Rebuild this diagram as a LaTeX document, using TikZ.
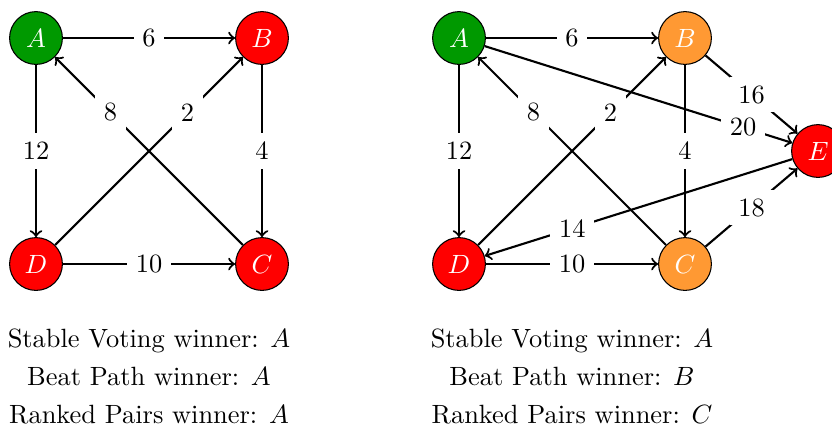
\documentclass[tikz,border=0pt]{standalone}
\begin{document}
\begin{tikzpicture}[x=0.3788pt,y=-0.3788pt,
  vert/.style={circle,draw=black,thin,minimum size=20pt,inner sep=0pt,text=white},
  win/.style={vert,fill=green!60!black},
  lose/.style={vert,fill=red},
  mid/.style={vert,fill=orange!80},
  edge/.style={thick,->},
  wt/.style={fill=white},
  caption/.style={anchor=base,inner sep=0pt}]
\path[use as bounding box] (0,0) rectangle (832,426);
% left graph
\node[win]  (lA) at (36,38)   {$A$};
\node[lose] (lB) at (262,38)  {$B$};
\node[lose] (lC) at (262,264) {$C$};
\node[lose] (lD) at (36,264)  {$D$};
\draw[edge] (lA) -- node[wt] {6} (lB);
\draw[edge] (lA) -- node[wt] {12} (lD);
\draw[edge] (lB) -- node[wt] {4} (lC);
\draw[edge] (lD) -- node[wt] {10} (lC);
\draw[edge] (lC) -- node[wt,pos=0.705] {8} (lA);
\draw[edge] (lD) -- node[wt,pos=0.705] {2} (lB);
% right graph
\node[win]  (rA) at (459,38)  {$A$};
\node[mid]  (rB) at (685,38)  {$B$};
\node[mid]  (rC) at (685,264) {$C$};
\node[lose] (rD) at (459,264) {$D$};
\node[lose] (rE) at (818,151) {$E$};
\draw[edge] (rA) -- node[wt] {6} (rB);
\draw[edge] (rA) -- node[wt] {12} (rD);
\draw[edge] (rB) -- node[wt] {4} (rC);
\draw[edge] (rD) -- node[wt] {10} (rC);
\draw[edge] (rC) -- node[wt,pos=0.705] {8} (rA);
\draw[edge] (rD) -- node[wt,pos=0.705] {2} (rB);
\draw[edge] (rB) -- node[wt] {16} (rE);
\draw[edge] (rA) -- node[wt,pos=0.84] {20} (rE);
\draw[edge] (rE) -- node[wt,pos=0.715] {14} (rD);
\draw[edge] (rC) -- node[wt] {18} (rE);
% captions
\node[caption] (l1) at (149,347) {Stable Voting winner: $A$};
\node[caption] (l2) at (149,385) {Beat Path winner: $A$};
\node[caption] (l3) at (149,423) {Ranked Pairs winner: $A$};
\node[caption] (r1) at (572,347) {Stable Voting winner: $A$};
\node[caption] (r2) at (572,385) {Beat Path winner: $B$};
\node[caption] (r3) at (572,423) {Ranked Pairs winner: $C$};
\end{tikzpicture}
\end{document}
